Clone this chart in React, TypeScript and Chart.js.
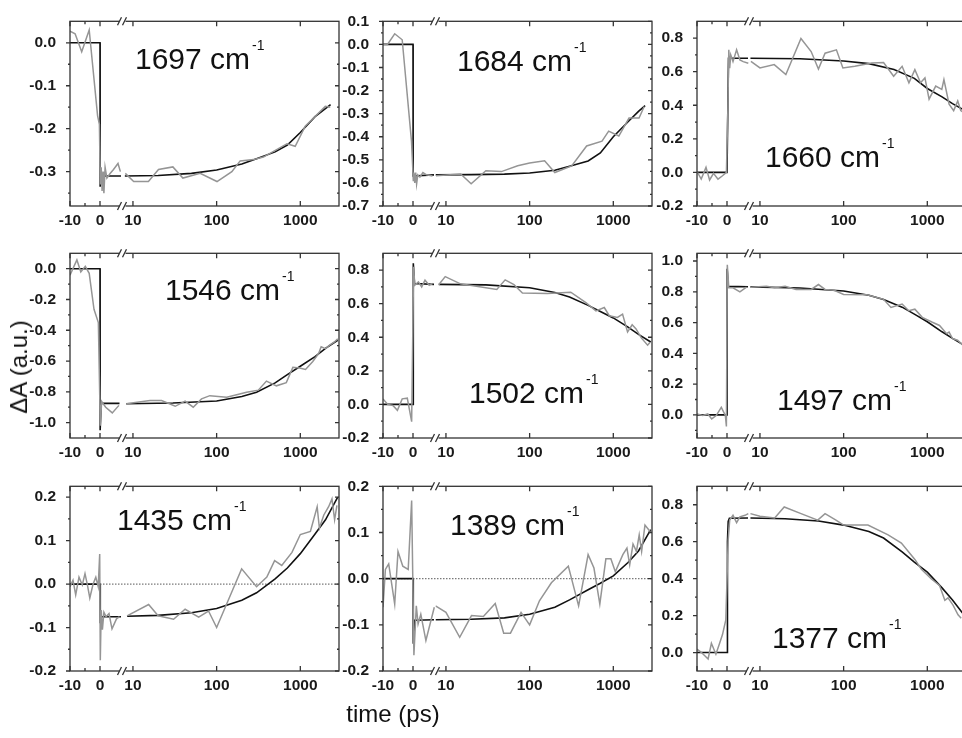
import React, { useEffect, useRef } from "react";
import { Chart, registerables } from "chart.js";

Chart.register(...registerables);

type Pt = [number, number];

// ---------- shared broken time axis ----------
const xEarlyRange = [-10, 7.5];
const xLateRange = [7.5, 2900];
const xEarlyTicks = [-10, 0];
const xEarlyMinor = [-5];
const xLateTicks = [10, 100, 1000];

// ---------- 1697 cm-1 ----------
const yRange1697 = [-0.38, 0.05];
const yTicks1697 = [-0.3, -0.2, -0.1, 0.0];
const grayEarly1697: Pt[] = [[-10, 0.027], [-8.3, 0.021], [-6.1, -0.021], [-3.6, 0.03], [-0.8, -0.17], [-0.2, -0.19], [0.1, -0.33], [0.4, -0.29], [0.7, -0.345], [1.0, -0.3], [1.3, -0.35], [1.7, -0.29], [2.3, -0.315], [3.3, -0.305], [4.5, -0.295], [6.0, -0.281], [6.8, -0.3]];
const fitEarly1697: Pt[] = [[-10, 0], [0, 0], [0.05, -0.335], [0.4, -0.31], [7, -0.31]];
const grayLate1697: Pt[] = [[8.1, -0.304], [10.2, -0.323], [15.3, -0.323], [20.2, -0.295], [30, -0.289], [39.5, -0.315], [63.5, -0.304], [101, -0.323], [152, -0.3], [191, -0.275], [276, -0.272], [362, -0.266], [693, -0.235], [869, -0.241], [1145, -0.194], [1510, -0.171], [1990, -0.148], [2280, -0.15]];
const fitLate1697: Pt[] = [[8, -0.31], [20, -0.309], [50, -0.304], [100, -0.296], [200, -0.282], [300, -0.27], [500, -0.254], [700, -0.238], [1000, -0.209], [1500, -0.172], [2300, -0.144]];

// ---------- 1684 cm-1 ----------
const yRange1684 = [-0.7, 0.1];
const yTicks1684 = [-0.7, -0.6, -0.5, -0.4, -0.3, -0.2, -0.1, 0.0, 0.1];
const grayEarly1684: Pt[] = [[-10, 0.0], [-8.5, 0.0], [-6.1, 0.046], [-3.6, 0.02], [-0.5, -0.42], [0.1, -0.59], [0.3, -0.555], [0.6, -0.6], [0.9, -0.555], [1.2, -0.605], [1.6, -0.565], [2.3, -0.575], [3.3, -0.555], [4.5, -0.565], [6.5, -0.57]];
const fitEarly1684: Pt[] = [[-10, 0], [0, 0], [0.05, -0.57], [7, -0.565]];
const grayLate1684: Pt[] = [[7.6, -0.569], [15, -0.561], [20, -0.604], [30, -0.547], [46, -0.551], [72, -0.526], [100, -0.514], [151, -0.504], [200, -0.555], [318, -0.526], [480, -0.44], [733, -0.419], [880, -0.376], [1164, -0.397], [1540, -0.319], [2030, -0.319], [2340, -0.269]];
const fitLate1684: Pt[] = [[7.5, -0.565], [20, -0.564], [50, -0.562], [100, -0.557], [200, -0.545], [300, -0.528], [500, -0.505], [700, -0.47], [1000, -0.4], [1500, -0.335], [2000, -0.29], [2400, -0.265]];

// ---------- 1660 cm-1 ----------
const yRange1660 = [-0.2, 0.9];
const yTicks1660 = [-0.2, 0.0, 0.2, 0.4, 0.6, 0.8];
const grayEarly1660: Pt[] = [[-10, 0.005], [-8.6, -0.04], [-7, 0.03], [-5.8, -0.045], [-4.5, -0.005], [-3, -0.04], [-1.5, -0.02], [-0.2, 0.0], [0.3, 0.38], [0.6, 0.73], [0.9, 0.62], [1.25, 0.7], [2.0, 0.66], [3.2, 0.73], [4.3, 0.67], [5.4, 0.66], [7.1, 0.65]];
const fitEarly1660: Pt[] = [[-10, 0], [0, 0], [0.5, 0.68], [7, 0.68]];
const grayLate1660: Pt[] = [[7.8, 0.661], [10, 0.622], [14.8, 0.642], [20.4, 0.583], [30.9, 0.798], [40.9, 0.72], [50, 0.616], [60, 0.71], [82, 0.73], [98, 0.622], [136, 0.632], [217, 0.651], [300, 0.655], [396, 0.573], [500, 0.632], [603, 0.534], [710, 0.612], [830, 0.534], [937, 0.563], [1050, 0.436], [1260, 0.514], [1490, 0.495], [1580, 0.553], [1820, 0.407], [2065, 0.368], [2310, 0.426], [2510, 0.368], [2700, 0.358]];
const fitLate1660: Pt[] = [[7.7, 0.68], [30, 0.677], [100, 0.664], [200, 0.648], [400, 0.613], [700, 0.56], [1000, 0.5], [1500, 0.45], [2000, 0.41], [2900, 0.365]];

// ---------- 1546 cm-1 ----------
const yRange1546 = [-1.1, 0.1];
const yTicks1546 = [-1.0, -0.8, -0.6, -0.4, -0.2, 0.0];
const grayEarly1546: Pt[] = [[-10, -0.042], [-7.7, 0.057], [-6.4, -0.021], [-4.9, 0.015], [-3.6, -0.03], [-2, -0.264], [-0.55, -0.35], [0.1, -1.02], [0.55, -0.863], [1.9, -0.9], [4.1, -0.937], [6.3, -0.888]];
const fitEarly1546: Pt[] = [[-10, 0], [0, 0], [0.05, -1.05], [0.4, -0.875], [6.5, -0.875]];
const grayLate1546: Pt[] = [[8.3, -0.877], [16, -0.856], [22, -0.856], [32, -0.894], [42, -0.86], [52.5, -0.9], [66, -0.846], [83, -0.825], [132, -0.835], [228, -0.803], [315, -0.789], [394, -0.73], [518, -0.761], [680, -0.74], [815, -0.641], [980, -0.645], [1155, -0.655], [1410, -0.603], [1660, -0.55], [1775, -0.507], [2000, -0.52], [2240, -0.497], [2560, -0.476], [2800, -0.455]];
const fitLate1546: Pt[] = [[8.3, -0.877], [30, -0.873], [100, -0.86], [200, -0.83], [300, -0.803], [500, -0.742], [700, -0.688], [1000, -0.634], [1500, -0.571], [2000, -0.518], [2800, -0.465]];

// ---------- 1502 cm-1 ----------
const yRange1502 = [-0.2, 0.9];
const yTicks1502 = [-0.2, 0.0, 0.2, 0.4, 0.6, 0.8];
const grayEarly1502: Pt[] = [[-10, 0.033], [-8.4, 0.0], [-6.7, -0.006], [-5.2, -0.035], [-3.6, 0.033], [-1.9, 0.037], [-0.45, -0.103], [0.2, 0.82], [0.6, 0.71], [1.8, 0.73], [2.9, 0.7], [4.0, 0.74], [5.4, 0.71], [6.5, 0.72]];
const fitEarly1502: Pt[] = [[-10, 0], [0, 0], [0.1, 0.84], [0.5, 0.72], [7, 0.715]];
const grayLate1502: Pt[] = [[8.2, 0.713], [9.8, 0.761], [14.9, 0.718], [40.5, 0.684], [51, 0.742], [65, 0.713], [82, 0.664], [163, 0.66], [310, 0.668], [470, 0.606], [620, 0.557], [780, 0.577], [895, 0.528], [1120, 0.518], [1290, 0.538], [1480, 0.431], [1680, 0.474], [1870, 0.45], [2160, 0.396], [2570, 0.353], [2750, 0.37]];
const fitLate1502: Pt[] = [[8.2, 0.715], [30, 0.712], [100, 0.695], [200, 0.667], [300, 0.64], [500, 0.59], [700, 0.553], [1000, 0.515], [1500, 0.46], [2000, 0.417], [2800, 0.372]];

// ---------- 1497 cm-1 ----------
const yRange1497 = [-0.15, 1.05];
const yTicks1497 = [0.0, 0.2, 0.4, 0.6, 0.8, 1.0];
const grayEarly1497: Pt[] = [[-10, 0.006], [-8.1, -0.004], [-6.4, 0.006], [-5.1, -0.026], [-3.6, -0.004], [-1.9, 0.049], [-0.55, -0.004], [-0.2, -0.075], [0.1, 0.975], [0.6, 0.826], [2.0, 0.826], [4.3, 0.8], [6.5, 0.83]];
const fitEarly1497: Pt[] = [[-10, 0], [0, 0], [0.05, 0.95], [0.4, 0.835], [7, 0.833]];
const grayLate1497: Pt[] = [[7.8, 0.83], [12, 0.836], [15, 0.826], [20, 0.836], [27, 0.815], [41, 0.815], [50, 0.847], [60, 0.815], [77, 0.81], [100, 0.783], [190, 0.78], [300, 0.751], [368, 0.698], [500, 0.72], [600, 0.677], [710, 0.687], [870, 0.634], [1150, 0.602], [1400, 0.581], [1700, 0.528], [1820, 0.538], [2000, 0.496], [2300, 0.485], [2700, 0.45]];
const fitLate1497: Pt[] = [[7.7, 0.832], [30, 0.825], [100, 0.805], [200, 0.777], [300, 0.75], [500, 0.7], [700, 0.655], [1000, 0.605], [1500, 0.54], [2000, 0.497], [2900, 0.445]];

// ---------- 1435 cm-1 ----------
const yRange1435 = [-0.2, 0.225];
const yTicks1435 = [-0.2, -0.1, 0.0, 0.1, 0.2];
const grayEarly1435: Pt[] = [[-10, -0.006], [-9, 0.009], [-8.1, -0.025], [-7, 0.016], [-5.9, -0.002], [-5, 0.024], [-4.2, -0.002], [-3.4, -0.032], [-2.3, 0.0], [-1.4, 0.016], [-0.6, -0.006], [-0.1, 0.069], [0.1, -0.175], [0.4, -0.06], [0.8, -0.105], [1.3, -0.065], [2, -0.075], [3, -0.068], [4, -0.103], [5.5, -0.08], [6.5, -0.075]];
const fitEarly1435: Pt[] = [[-10, 0], [0, 0], [0.1, -0.09], [0.5, -0.075], [7, -0.075]];
const grayLate1435: Pt[] = [[8.5, -0.073], [15.4, -0.047], [20, -0.073], [30.6, -0.081], [42, -0.058], [61, -0.076], [80, -0.062], [100, -0.1], [158, -0.01], [199, 0.035], [300, -0.006], [398, 0.016], [493, 0.054], [600, 0.043], [795, 0.073], [1000, 0.114], [1320, 0.121], [1590, 0.178], [1690, 0.129], [1910, 0.159], [2180, 0.178], [2390, 0.196], [2570, 0.148], [2740, 0.181]];
const fitLate1435: Pt[] = [[8.5, -0.074], [20, -0.072], [50, -0.066], [100, -0.056], [200, -0.037], [300, -0.02], [500, 0.012], [700, 0.037], [1000, 0.07], [1500, 0.115], [2000, 0.148], [2800, 0.2]];

// ---------- 1389 cm-1 ----------
const yRange1389 = [-0.2, 0.2];
const yTicks1389 = [-0.2, -0.1, 0.0, 0.1, 0.2];
const grayEarly1389: Pt[] = [[-10, -0.062], [-9.2, 0.02], [-8.1, 0.032], [-6.1, -0.055], [-5, 0.059], [-3.4, 0.027], [-1.6, 0.02], [-0.45, 0.169], [0.3, -0.166], [1.1, -0.059], [1.7, -0.098], [2.6, -0.077], [4.3, -0.134], [7.1, -0.062]];
const fitEarly1389: Pt[] = [[-10, 0], [0, 0], [0.1, -0.141], [0.6, -0.09], [7, -0.089]];
const grayLate1389: Pt[] = [[7.5, -0.059], [10, -0.073], [14.6, -0.127], [20.2, -0.08], [28, -0.082], [38.8, -0.054], [49, -0.118], [59, -0.118], [79, -0.073], [100, -0.1], [131, -0.048], [182, -0.009], [290, 0.027], [385, -0.059], [500, 0.052], [587, 0.023], [690, -0.055], [815, 0.043], [935, 0.043], [1057, 0.015], [1300, 0.052], [1455, 0.066], [1570, 0.03], [1720, 0.075], [1890, 0.059], [2040, 0.095], [2180, 0.059], [2390, 0.116], [2750, 0.102]];
const fitLate1389: Pt[] = [[7.5, -0.089], [20, -0.088], [50, -0.085], [100, -0.077], [200, -0.062], [300, -0.046], [500, -0.024], [700, -0.01], [1000, 0.006], [1500, 0.035], [2000, 0.06], [2800, 0.106]];

// ---------- 1377 cm-1 ----------
const yRange1377 = [-0.1, 0.9];
const yTicks1377 = [0.0, 0.2, 0.4, 0.6, 0.8];
const grayEarly1377: Pt[] = [[-10, 0.018], [-8.5, 0.0], [-6.3, -0.035], [-5.2, 0.05], [-3.7, -0.009], [-2.6, 0.044], [-1.5, 0.097], [-0.4, 0.177], [0.4, 0.61], [0.9, 0.717], [2, 0.743], [3.2, 0.703], [4.3, 0.735], [6, 0.743], [7.1, 0.752]];
const fitEarly1377: Pt[] = [[-10, 0], [0, 0], [0.15, 0.6], [0.4, 0.71], [0.8, 0.727], [7, 0.728]];
const grayLate1377: Pt[] = [[7.7, 0.752], [10, 0.738], [15, 0.729], [19.5, 0.788], [31, 0.752], [49, 0.717], [60, 0.752], [81, 0.717], [100, 0.69], [195, 0.69], [340, 0.637], [490, 0.593], [710, 0.504], [850, 0.451], [1120, 0.398], [1400, 0.363], [1620, 0.283], [1770, 0.296], [2030, 0.257], [2330, 0.204], [2540, 0.186]];
const fitLate1377: Pt[] = [[7.7, 0.728], [20, 0.724], [50, 0.712], [100, 0.69], [200, 0.655], [300, 0.62], [500, 0.545], [700, 0.49], [1000, 0.435], [1500, 0.35], [2000, 0.285], [2900, 0.19]];

// ---------- panel table built from the arrays ----------
interface PanelCfg {
  label: string;
  yRange: number[];
  yTicks: number[];
  grayEarly: Pt[];
  fitEarly: Pt[];
  grayLate: Pt[];
  fitLate: Pt[];
  zeroLine: boolean;
}

const panels: PanelCfg[] = [
  { label: "1697", yRange: yRange1697, yTicks: yTicks1697, grayEarly: grayEarly1697, fitEarly: fitEarly1697, grayLate: grayLate1697, fitLate: fitLate1697, zeroLine: false },
  { label: "1684", yRange: yRange1684, yTicks: yTicks1684, grayEarly: grayEarly1684, fitEarly: fitEarly1684, grayLate: grayLate1684, fitLate: fitLate1684, zeroLine: false },
  { label: "1660", yRange: yRange1660, yTicks: yTicks1660, grayEarly: grayEarly1660, fitEarly: fitEarly1660, grayLate: grayLate1660, fitLate: fitLate1660, zeroLine: false },
  { label: "1546", yRange: yRange1546, yTicks: yTicks1546, grayEarly: grayEarly1546, fitEarly: fitEarly1546, grayLate: grayLate1546, fitLate: fitLate1546, zeroLine: false },
  { label: "1502", yRange: yRange1502, yTicks: yTicks1502, grayEarly: grayEarly1502, fitEarly: fitEarly1502, grayLate: grayLate1502, fitLate: fitLate1502, zeroLine: false },
  { label: "1497", yRange: yRange1497, yTicks: yTicks1497, grayEarly: grayEarly1497, fitEarly: fitEarly1497, grayLate: grayLate1497, fitLate: fitLate1497, zeroLine: false },
  { label: "1435", yRange: yRange1435, yTicks: yTicks1435, grayEarly: grayEarly1435, fitEarly: fitEarly1435, grayLate: grayLate1435, fitLate: fitLate1435, zeroLine: true },
  { label: "1389", yRange: yRange1389, yTicks: yTicks1389, grayEarly: grayEarly1389, fitEarly: fitEarly1389, grayLate: grayLate1389, fitLate: fitLate1389, zeroLine: true },
  { label: "1377", yRange: yRange1377, yTicks: yTicks1377, grayEarly: grayEarly1377, fitEarly: fitEarly1377, grayLate: grayLate1377, fitLate: fitLate1377, zeroLine: false },
];

// layout: plot-area origin and label offset (baseline) for each panel
const colLeft = [70, 383, 697];
const rowTop = [18, 250, 483];
const labelPos = [
  [65, 48], [74, 50], [68, 146],
  [95, 47], [86, 150], [80, 157],
  [47, 44], [67, 49], [75, 162],
];

const PLOT_W = 269;
const PLOT_H = 188;
const PAD_L = 50;
const PAD_T = 12;
const PAD_R = 20;
const PAD_B = 24;
const CW = PAD_L + PLOT_W + PAD_R;
const CH = PAD_T + PLOT_H + PAD_B;

const TEXT_FONT = '"Liberation Sans", Arial, sans-serif';
const tickFont = { family: '"Liberation Sans", Arial, sans-serif', size: 15.5, weight: "bold" as const };
const FRAME = "#333333";
const GRAY = "#959595";
const BLACK = "#111111";

function minorTicks(range: number[], ticks: number[]): number[] {
  if (ticks.length < 2) return [];
  const step = Math.abs(ticks[1] - ticks[0]) / 2;
  const out: number[] = [];
  const start = Math.ceil(range[0] / step - 1e-9) * step;
  for (let v = start; v <= range[1] + 1e-9; v += step) {
    const isMajor = ticks.some((t) => Math.abs(t - v) < 1e-6);
    const isEdge = Math.abs(v - range[0]) < 1e-6 || Math.abs(v - range[1]) < 1e-6;
    if (!isMajor && !isEdge) out.push(v);
  }
  return out;
}

function Panel({ idx }: { idx: number }) {
  const ref = useRef<HTMLCanvasElement>(null);
  const cfg = panels[idx];
  const left = colLeft[idx % 3];
  const top = rowTop[Math.floor(idx / 3)];

  useEffect(() => {
    const canvas = ref.current;
    if (!canvas) return;
    const [lx, ly] = labelPos[idx];
    const yMinor = minorTicks(cfg.yRange, cfg.yTicks);

    const decor = {
      id: "decor",
      beforeDatasetsDraw(chart: any) {
        if (!cfg.zeroLine) return;
        const { ctx, chartArea: a, scales } = chart;
        const py = scales.y.getPixelForValue(0);
        ctx.save();
        ctx.strokeStyle = "#7a7a7a";
        ctx.lineWidth = 1.2;
        ctx.setLineDash([1.5, 1.5]);
        ctx.beginPath();
        ctx.moveTo(a.left, py);
        ctx.lineTo(a.right, py);
        ctx.stroke();
        ctx.restore();
      },
      afterDatasetsDraw(chart: any) {
        const { ctx, chartArea: a, scales } = chart;
        const xl = scales.xl;
        const xr = scales.xr;
        const ys = scales.y;
        ctx.save();
        ctx.strokeStyle = FRAME;
        ctx.lineWidth = 1.3;
        ctx.strokeRect(a.left, a.top, a.right - a.left, a.bottom - a.top);
        ctx.beginPath();
        const xt: number[][] = [
          ...xEarlyTicks.map((v) => [xl.getPixelForValue(v), 5]),
          ...xEarlyMinor.map((v) => [xl.getPixelForValue(v), 3]),
          ...xLateTicks.map((v) => [xr.getPixelForValue(v), 5]),
        ];
        for (const [px, len] of xt) {
          ctx.moveTo(px, a.bottom);
          ctx.lineTo(px, a.bottom - len);
          ctx.moveTo(px, a.top);
          ctx.lineTo(px, a.top + len);
        }
        for (const v of cfg.yTicks) {
          const py = ys.getPixelForValue(v);
          ctx.moveTo(a.left, py);
          ctx.lineTo(a.left - 4, py);
          ctx.moveTo(a.right, py);
          ctx.lineTo(a.right - 4, py);
        }
        for (const v of yMinor) {
          const py = ys.getPixelForValue(v);
          ctx.moveTo(a.left, py);
          ctx.lineTo(a.left - 2, py);
          ctx.moveTo(a.right, py);
          ctx.lineTo(a.right - 2, py);
        }
        ctx.stroke();
        // axis break marks
        const bx = xl.right;
        for (const by of [a.top, a.bottom]) {
          ctx.fillStyle = "#ffffff";
          ctx.fillRect(bx - 3, by - 2, 6, 4);
          ctx.beginPath();
          ctx.moveTo(bx - 5, by + 4);
          ctx.lineTo(bx - 1, by - 4);
          ctx.moveTo(bx, by + 4);
          ctx.lineTo(bx + 4, by - 4);
          ctx.stroke();
        }
        ctx.restore();
      },
      afterDraw(chart: any) {
        const { ctx, chartArea: a } = chart;
        ctx.save();
        ctx.fillStyle = "#111111";
        ctx.textAlign = "left";
        ctx.textBaseline = "alphabetic";
        ctx.font = `30px ${TEXT_FONT}`;
        const main = `${cfg.label} cm`;
        const x = a.left + lx;
        const yb = a.top + ly;
        ctx.fillText(main, x, yb);
        const w = ctx.measureText(main).width;
        ctx.font = `14px ${TEXT_FONT}`;
        ctx.fillText("-1", x + w + 2, yb - 19);
        ctx.restore();
      },
    };

    const line = (pts: Pt[], axis: string, color: string, width: number) => ({
      data: pts.map(([x, y]) => ({ x, y })),
      xAxisID: axis,
      yAxisID: "y",
      borderColor: color,
      borderWidth: width,
      pointRadius: 0,
      tension: 0,
      fill: false,
    });

    const chart = new Chart(canvas, {
      type: "line",
      data: {
        datasets: [
          line(cfg.grayEarly, "xl", GRAY, 1.5),
          line(cfg.grayLate, "xr", GRAY, 1.5),
          line(cfg.fitEarly, "xl", BLACK, 1.6),
          line(cfg.fitLate, "xr", BLACK, 1.6),
        ] as any,
      },
      options: {
        animation: false,
        responsive: false,
        devicePixelRatio: 1,
        events: [],
        layout: { padding: { left: 0, top: PAD_T, right: PAD_R, bottom: 0 } },
        plugins: { legend: { display: false }, tooltip: { enabled: false } },
        scales: {
          xl: {
            type: "linear",
            position: "bottom",
            stack: "x",
            stackWeight: 52.5,
            min: xEarlyRange[0],
            max: xEarlyRange[1],
            grid: { display: false },
            border: { display: false },
            ticks: { font: tickFont, color: "#1a1a1a", padding: -3, maxRotation: 0, autoSkip: false, callback: (v: any) => String(v) },
            afterBuildTicks: (s: any) => { s.ticks = xEarlyTicks.map((value) => ({ value })); },
            afterFit: (s: any) => { s.height = PAD_B; },
          },
          xr: {
            type: "logarithmic",
            position: "bottom",
            stack: "x",
            stackWeight: 216.5,
            min: xLateRange[0],
            max: xLateRange[1],
            grid: { display: false },
            border: { display: false },
            ticks: { font: tickFont, color: "#1a1a1a", padding: -3, maxRotation: 0, autoSkip: false, callback: (v: any) => String(v) },
            afterBuildTicks: (s: any) => { s.ticks = xLateTicks.map((value) => ({ value })); },
            afterFit: (s: any) => { s.height = PAD_B; },
          },
          y: {
            type: "linear",
            position: "left",
            min: cfg.yRange[0],
            max: cfg.yRange[1],
            grid: { display: false },
            border: { display: false },
            ticks: { font: tickFont, color: "#1a1a1a", padding: 6, autoSkip: false, callback: (v: any) => Number(v).toFixed(1) },
            afterBuildTicks: (s: any) => { s.ticks = cfg.yTicks.map((value) => ({ value })); },
            afterFit: (s: any) => { s.width = PAD_L; },
          },
        } as any,
      },
      plugins: [decor],
    });
    return () => chart.destroy();
  }, [idx]);

  return (
    <canvas
      ref={ref}
      width={CW}
      height={CH}
      style={{ position: "absolute", left: left - PAD_L, top: top - PAD_T, width: CW, height: CH }}
    />
  );
}

export default function App() {
  return (
    <div
      style={{
        position: "absolute",
        left: 0,
        top: 0,
        width: 962,
        height: 738,
        overflow: "hidden",
        background: "#ffffff",
      }}
    >
      {panels.map((_, i) => (
        <Panel key={i} idx={i} />
      ))}
      <div
        style={{
          position: "absolute",
          left: 19,
          top: 367,
          transform: "translate(-50%, -50%) rotate(-90deg)",
          font: `24px ${TEXT_FONT}`,
          color: "#111",
          whiteSpace: "nowrap",
        }}
      >
        ΔA (a.u.)
      </div>
      <div
        style={{
          position: "absolute",
          left: 393,
          top: 714,
          transform: "translate(-50%, -50%)",
          font: `24px ${TEXT_FONT}`,
          color: "#111",
          whiteSpace: "nowrap",
        }}
      >
        time (ps)
      </div>
    </div>
  );
}
